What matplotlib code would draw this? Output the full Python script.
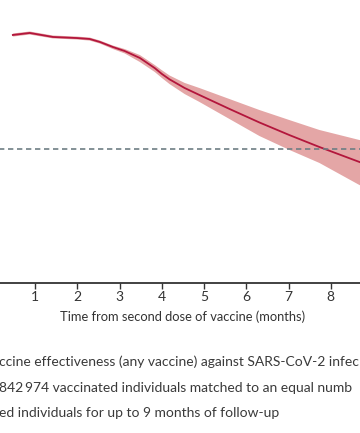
import matplotlib
matplotlib.use('Agg')
import matplotlib.pyplot as plt

plt.rcParams['font.family'] = ['Lato', 'DejaVu Sans']

# months since second dose, vaccine effectiveness (%) with 95% CI
months = [0.47, 0.87, 1.42, 1.99, 2.29, 2.53, 2.84, 3.12, 3.48, 3.83, 4.0,
          4.18, 4.54, 4.89, 5.60, 6.31, 7.02, 7.73, 8.68, 9.0]
ve = [85.1, 86.6, 83.6, 82.8, 82.1, 79.9, 76.1, 73.1, 67.9, 60.4, 56.0,
      52.0, 45.5, 40.3, 29.9, 19.8, 10.4, 1.5, -9.7, -13.0]
ve_upper = [86.2, 87.7, 84.7, 83.9, 83.2, 81.0, 77.2, 74.6, 70.1, 62.7, 58.8,
            54.9, 49.3, 45.5, 37.3, 29.1, 21.6, 14.2, 6.7, 4.5]
ve_lower = [83.9, 85.4, 82.5, 81.7, 80.9, 78.7, 74.6, 71.3, 64.9, 57.5, 53.0,
            48.5, 41.0, 35.1, 22.4, 9.7, -0.7, -10.4, -26.9, -31.0]
xticks = [1, 2, 3, 4, 5, 6, 7, 8]

caption = ["ccine effectiveness (any vaccine) against SARS-CoV-2 infec",
           "842\u2009974 vaccinated individuals matched to an equal numb",
           "ed individuals for up to 9 months of follow-up"]

W, H = 360, 433
fig = plt.figure(figsize=(W / 100, H / 100), dpi=100)
ax = fig.add_axes([-7 / W, 150 / H, 380 / W, 268 / H])

ax.fill_between(months, ve_lower, ve_upper, color='#e4a6a6', linewidth=0)
ax.plot(months, ve, color='#b3163c', linewidth=1.3, solid_joinstyle='round')
ax.axhline(0, color='#6e7e84', linewidth=1.2, linestyle=(0, (3.2, 2.2)))

ax.set_xlim(0, 9)
ax.set_ylim(-100, 100)
for s in ['top', 'right', 'left']:
    ax.spines[s].set_visible(False)
ax.spines['bottom'].set_color('#333333')
ax.spines['bottom'].set_linewidth(1.3)
ax.set_yticks([])
ax.set_xticks(xticks)
ax.tick_params(axis='x', direction='out', length=4, width=1, color='#333333',
               labelsize=10, labelcolor='#333333', pad=2)
ax.set_xlabel("Time from second dose of vaccine (months)", fontsize=9.3,
              color='#333333', labelpad=5)

for i, line in enumerate(caption):
    fig.text(-1 / W, 1 - (362 + 25.5 * i) / H, line, fontsize=10,
             color='#3a3a3a', va='center', ha='left')

fig.savefig('out.png', dpi=100)
